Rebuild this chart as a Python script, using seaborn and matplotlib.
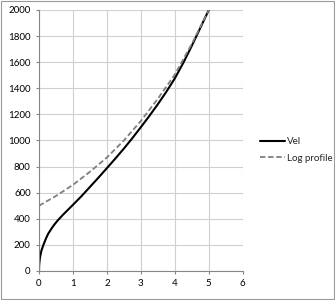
import matplotlib
matplotlib.use("Agg")
import matplotlib.pyplot as plt
import seaborn as sns
import pandas as pd
from matplotlib.patches import Rectangle

# Data
vel_x = [0, 0.003, 0.01, 0.03, 0.07, 0.13, 0.2, 0.27, 0.36, 0.45, 0.55, 0.7, 0.85, 1.0, 1.25, 1.5, 1.75,
         2.0, 2.25, 2.5, 2.75, 3.0, 3.25, 3.5, 3.75, 4.0, 4.25, 4.5, 4.75, 5.0]
vel_y = [0, 35, 60, 105, 155, 200, 246, 285, 322, 355, 387, 429, 468, 507, 573, 644, 715,
         788, 862, 938, 1018, 1102, 1188, 1278, 1373, 1476, 1595, 1725, 1862, 2000]
log_x = [0, 0.5, 1.0, 1.5, 2.0, 2.5, 3.0, 3.5, 4.0, 4.5, 5.0]
log_y = [500, 575, 660, 760, 870, 1000, 1150, 1320, 1505, 1740, 2000]

x_ticks = [0, 1, 2, 3, 4, 5, 6]
y_ticks = [0, 200, 400, 600, 800, 1000, 1200, 1400, 1600, 1800, 2000]

sns.set_style("white")
plt.rcParams['font.family'] = ['Lato', 'DejaVu Sans']

fig = plt.figure(figsize=(3.35, 3.0), dpi=100)
ax = fig.add_axes([0.1164, 0.0967, 0.6081, 0.87])

df_vel = pd.DataFrame({"x": vel_x, "y": vel_y})
df_log = pd.DataFrame({"x": log_x, "y": log_y})

sns.lineplot(data=df_vel, x="x", y="y", ax=ax, color="black", lw=1.5,
             label="Vel", sort=False, estimator=None)
sns.lineplot(data=df_log, x="x", y="y", ax=ax, color="#7f7f7f", lw=1.3,
             label="Log profile", sort=False, estimator=None)
ax.lines[1].set_dashes((3, 1.5))

ax.set_xlim(0, 6)
ax.set_ylim(0, 2000)
ax.set_xticks(x_ticks)
ax.set_yticks(y_ticks)
ax.set_xticklabels([str(v) for v in x_ticks])
ax.set_yticklabels([str(v) for v in y_ticks])
ax.set_xlabel("")
ax.set_ylabel("")
ax.grid(True, color="#d0d0d0", lw=0.8)
ax.set_axisbelow(True)
for s in ["top", "right"]:
    ax.spines[s].set_visible(False)
for s in ["left", "bottom"]:
    ax.spines[s].set_color("#868686")
    ax.spines[s].set_linewidth(0.8)
ax.tick_params(axis="both", labelsize=7, colors="#868686", length=2, width=0.8,
               labelcolor="black", pad=4, direction="out", left=True, bottom=True)

ax.get_legend().remove()
h, l = ax.get_legend_handles_labels()
leg = fig.legend(h, l, loc="center left", bbox_to_anchor=(0.75, 0.5), frameon=False,
                 fontsize=7, handlelength=2.6, handletextpad=0.2, labelspacing=0.8)

fig.patches.append(Rectangle((0.002, 0.003), 0.995, 0.994, transform=fig.transFigure,
                             fill=False, edgecolor="#9a9a9a", lw=0.8))

fig.savefig("out.png", dpi=100)
